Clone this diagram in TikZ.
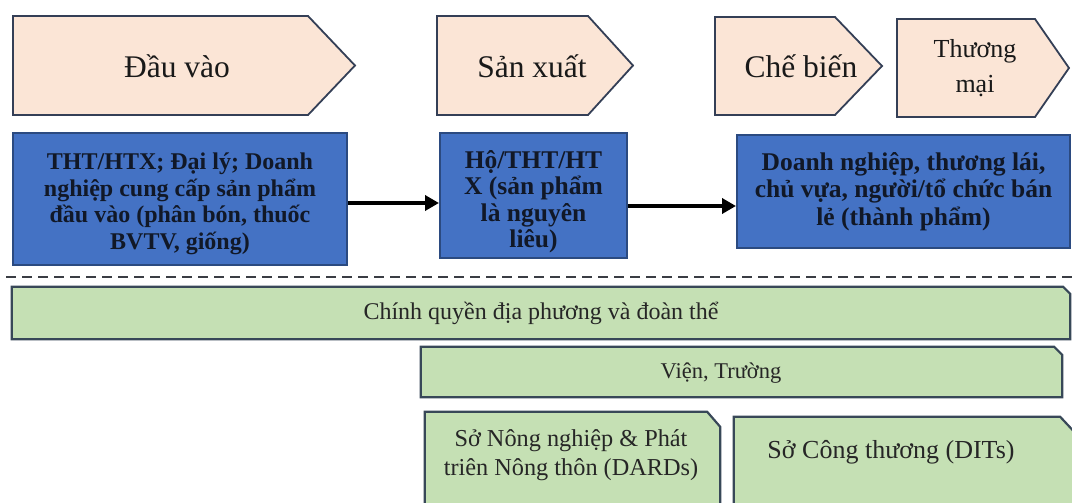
\documentclass[tikz,border=0pt]{standalone}
\usepackage{fontspec}
\setmainfont{Liberation Serif}
\usetikzlibrary{arrows.meta}
\definecolor{stagefill}{HTML}{FBE5D6}
\definecolor{stageline}{HTML}{343F56}
\definecolor{actorfill}{HTML}{4472C4}
\definecolor{actorline}{HTML}{2B4A80}
\definecolor{actortext}{HTML}{111827}
\definecolor{supportfill}{HTML}{C5E0B4}
\definecolor{supportline}{HTML}{384858}
\definecolor{rulegray}{HTML}{3A3D44}
\begin{document}
\begin{tikzpicture}[x=1pt,y=-1pt,
  stageshape/.style={draw=stageline,fill=stagefill,line width=1.8pt,line join=miter},
  stagetext/.style={font=\fontsize{31.5}{35}\selectfont,align=center,text=black!90,inner sep=0pt},
  actor/.style={draw=actorline,fill=actorfill,line width=2pt,inner sep=0pt,align=center,
    text=actortext,font=\bfseries\fontsize{24}{26.5}\selectfont},
  flow/.style={-{Triangle[length=14pt,width=15pt]},line width=3.6pt,black},
  supportbox/.style={inner sep=0pt},
  supportshape/.style={draw=supportline,fill=supportfill,line width=2.2pt,line join=miter},
  supporttext/.style={font=\fontsize{24}{28}\selectfont,align=center,text=black!85,inner sep=0pt}
]
\useasboundingbox (0,0) rectangle (1072,503);
\clip (0,0) rectangle (1072,503);

% value-chain stages
\draw[stageshape] (13,16) -- (308,16) -- (355,65.5) -- (308,115) -- (13,115) -- cycle;
\node[stagetext] (s1) at (177,66) {Đầu vào};
\draw[stageshape] (437,16) -- (588,16) -- (633,65.5) -- (588,115) -- (437,115) -- cycle;
\node[stagetext] (s2) at (532,66) {Sản xuất};
\draw[stageshape] (715,17) -- (835,17) -- (882,66) -- (835,115) -- (715,115) -- cycle;
\node[stagetext] (s3) at (801,66) {Chế biến};
\draw[stageshape] (897,19) -- (1035,19) -- (1069,68) -- (1035,117) -- (897,117) -- cycle;
\node[stagetext,font=\fontsize{26}{35}\selectfont] (s4) at (975,68) {Thương\\mại};

% actors
\node[actor,minimum width=334pt,minimum height=132pt] (b1) at (180,199)
  {\rule{0pt}{26pt}THT/HTX; Đại lý; Doanh\\nghiệp cung cấp sản phẩm\\đầu vào (phân bón, thuốc\\BVTV, giống)};
\node[actor,minimum width=187pt,minimum height=125pt,font=\bfseries\fontsize{25.5}{26.5}\selectfont] (b2) at (533.5,195.5)
  {\rule{0pt}{30pt}Hộ/THT/HT\\X (sản phẩm\\là nguyên\\liêu)};
\node[actor,minimum width=333pt,minimum height=113pt,font=\bfseries\fontsize{25.5}{27.5}\selectfont] (b3) at (903.5,191.5)
  {Doanh nghiệp, thương lái,\\chủ vựa, người/tổ chức bán\\lẻ (thành phẩm)};

\draw[flow] ([yshift=-4pt]b1.east) -- ([yshift=-4pt]b1.east -| b2.west);
\draw[flow] ([yshift=-10.5pt]b2.east) -- ([yshift=-10.5pt]b2.east -| b3.west);

% separator
\coordinate (dl) at (6,277);
\coordinate (dr) at (1072,277);
\draw[rulegray,line width=2pt,dash pattern=on 10pt off 6pt] (dl) -- (dr);

% supporting institutions: boxes with a clipped top-right corner
\newcommand{\snipbox}[3]{% node name, horizontal cut, vertical cut
  \draw[supportshape] (#1.south west) -- (#1.north west)
    -- ([xshift=-#2]#1.north east) -- ([yshift=-#3]#1.north east)
    -- (#1.south east) -- cycle;}

\node[supportbox,minimum width=1058pt,minimum height=52pt] (g1) at (541,313) {};
\snipbox{g1}{7pt}{7pt}
\node[supporttext] (g1t) at (541,313) {Chính quyền địa phương và đoàn thể};

\node[supportbox,minimum width=641pt,minimum height=50pt] (g2) at (741.5,372) {};
\snipbox{g2}{8pt}{8pt}
\node[supporttext,font=\fontsize{22.5}{27}\selectfont] (g2t) at (721,373) {Viện, Trường};

\node[supportbox,minimum width=295pt,minimum height=148pt] (g3) at (572.5,486) {};
\snipbox{g3}{13pt}{15pt}
\node[supporttext,font=\fontsize{24.3}{29}\selectfont] (g3t) at (571,455) {Sở Nông nghiệp \& Phát\\triên Nông thôn (DARDs)};

\node[supportbox,minimum width=340pt,minimum height=142pt] (g4) at (904,488) {};
\snipbox{g4}{14pt}{15pt}
\node[supporttext,font=\fontsize{26}{30}\selectfont] (g4t) at (891,452) {Sở Công thương (DITs)};
\end{tikzpicture}
\end{document}
